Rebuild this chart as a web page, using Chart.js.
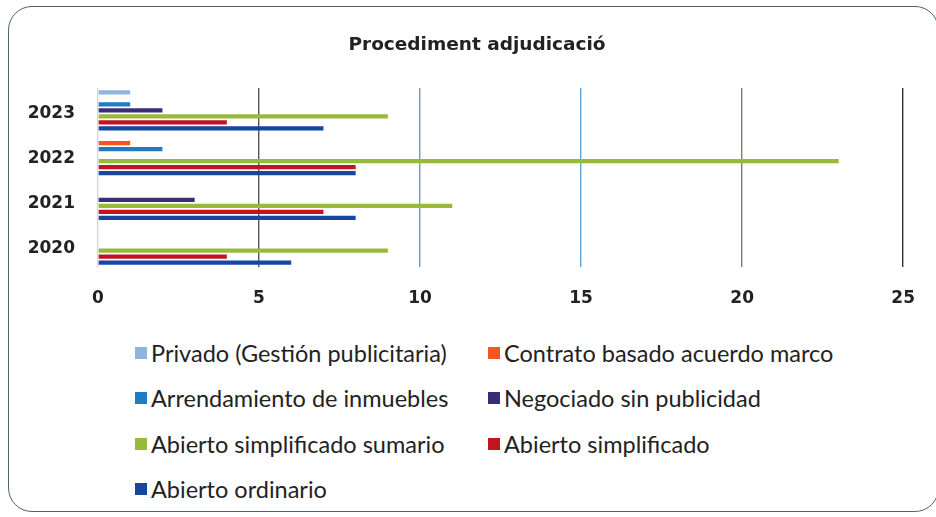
<!DOCTYPE html>
<html>
<head>
<meta charset="utf-8">
<script src="https://cdn.jsdelivr.net/npm/chart.js@4"></script>
<style>
  html, body { margin:0; padding:0; background:#fff; }
  #wrap { position:relative; width:936px; height:517px; overflow:hidden; background:#fff; }
  #frame { position:absolute; left:8px; top:6px; width:931px; height:506px; border:1.5px solid #4d6663; border-radius:24px; box-sizing:border-box; }
  #cv { position:absolute; left:0; top:0; }
  #title { position:absolute; left:277px; width:400px; top:33px; text-align:center; font-family:"DejaVu Sans", sans-serif; font-weight:bold; font-size:18.5px; color:#222; white-space:nowrap; }
  #legend { position:absolute; left:135px; top:330px; display:grid; grid-template-columns:353px auto; grid-auto-rows:45.5px; font-family:Lato, "Open Sans", sans-serif; font-size:23.5px; color:#222; }
  .it { display:flex; align-items:center; white-space:nowrap; }
  .bx { width:12px; height:12px; margin-right:4px; display:inline-block; }
</style>
</head>
<body>
<div id="wrap">
  <div id="frame"></div>
  <canvas id="cv" width="936" height="320"></canvas>
  <div id="title">Procediment adjudicació</div>
  <div id="legend"></div>
</div>
<script>
const categories = ["2023", "2022", "2021", "2020"];
const seriesNames = [
  "Privado (Gestión publicitaria)",
  "Contrato basado acuerdo marco",
  "Arrendamiento de inmuebles",
  "Negociado sin publicidad",
  "Abierto simplificado sumario",
  "Abierto simplificado",
  "Abierto ordinario"
];
const privado       = [1, 0, 0, 0];
const contrato      = [0, 1, 0, 0];
const arrendamiento = [1, 2, 0, 0];
const negociado     = [2, 0, 3, 0];
const sumario       = [9, 23, 11, 9];
const simplificado  = [4, 8, 7, 4];
const ordinario     = [7, 8, 8, 6];
const xTicks = [0, 5, 10, 15, 20, 25];
const colors = ["#8fb4e0", "#f2581e", "#1f7cc2", "#3b2c78", "#99b93a", "#c2141f", "#1546a0"];
const gridColors = ["#d0d8e0", "#555555", "#7f98b6", "#5aa6d8", "#7a7a7a", "#333333"];

const seriesData = [privado, contrato, arrendamiento, negociado, sumario, simplificado, ordinario];
const datasets = seriesNames.map((n, i) => ({
  label: n,
  data: seriesData[i],
  backgroundColor: colors[i],
  borderWidth: 0,
  categoryPercentage: 0.94,
  barPercentage: 0.72
}));

new Chart(document.getElementById('cv'), {
  type: 'bar',
  data: { labels: categories, datasets },
  options: {
    indexAxis: 'y',
    responsive: false,
    animation: false,
    layout: { padding: { left: 0, right: 26, top: 88, bottom: 0 } },
    plugins: {
      legend: { display: false },
      tooltip: { enabled: false },
      title: { display: false }
    },
    scales: {
      x: {
        min: 0, max: 25,
        afterBuildTicks: (s) => { s.ticks = xTicks.map(v => ({ value: v })); },
        ticks: { color: '#222', font: { family: 'DejaVu Sans', size: 17, weight: 'bold' }, padding: 21 },
        grid: { color: (c) => gridColors[c.index] || '#666', lineWidth: 1.4, drawTicks: false },
        border: { display: false },
        afterFit: (s) => { s.height = 53; }
      },
      y: {
        ticks: { color: '#222', font: { family: 'DejaVu Sans', size: 17, weight: 'bold' }, padding: 15, labelOffset: 3.5 },
        grid: { display: false },
        border: { display: false },
        afterFit: (s) => { s.width = 98; }
      }
    }
  }
});

const lg = document.getElementById('legend');
seriesNames.forEach((n, i) => {
  const d = document.createElement('div');
  d.className = 'it';
  d.innerHTML = '<span class="bx" style="background:' + colors[i] + '"></span><span>' + n + '</span>';
  lg.appendChild(d);
});
</script>
</body>
</html>
